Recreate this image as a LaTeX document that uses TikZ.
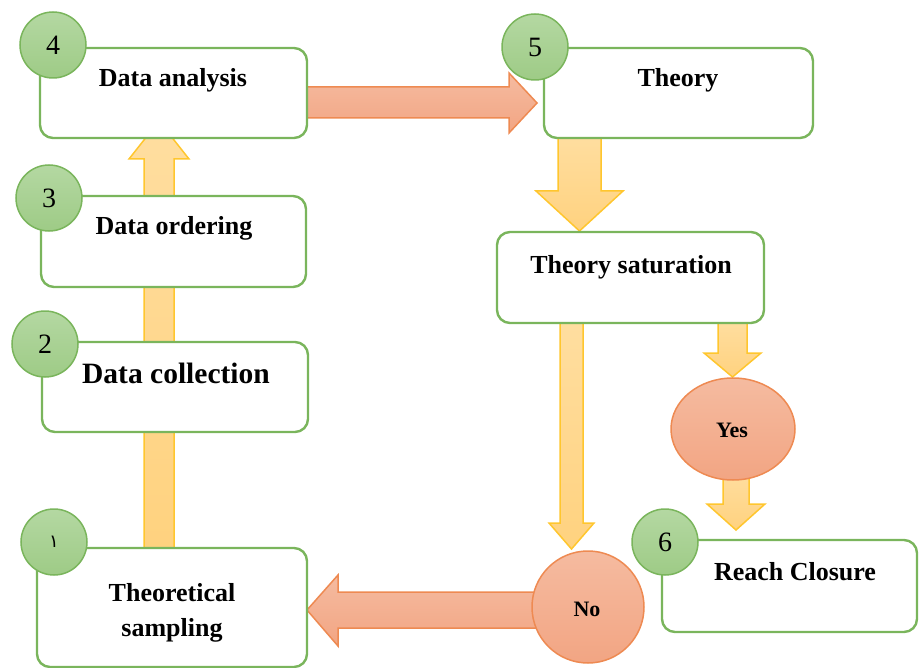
\documentclass[tikz,border=0pt]{standalone}
\usepackage{fontspec}
\setmainfont{Liberation Serif}
\newfontfamily\arabicfont[Script=Arabic]{DejaVu Sans}
\TeXXeTstate=1
\usetikzlibrary{shapes.geometric}
\definecolor{gline}{HTML}{7AB55C}
\definecolor{gtop}{HTML}{B4D8A2}
\definecolor{gbot}{HTML}{9ECB86}
\definecolor{oline}{HTML}{EE8A52}
\definecolor{otop}{HTML}{F5BBA0}
\definecolor{obot}{HTML}{F2A583}
\definecolor{yline}{HTML}{FFC62E}
\definecolor{ytop}{HTML}{FFDEA0}
\definecolor{ybot}{HTML}{FFD27F}
\tikzset{
  box/.style={draw=gline, line width=2.4pt, fill=white, rounded corners=13pt, inner sep=0pt},
  numc/.style={circle, draw=gline, line width=1.5pt, top color=gtop, bottom color=gbot,
    minimum size=66pt, inner sep=0pt, font=\fontsize{28}{30}\selectfont},
  lbl/.style={font=\fontsize{26}{30}\selectfont\bfseries, anchor=base, inner sep=0pt},
  yarr/.style={draw=yline, line width=1.5pt, top color=ytop, bottom color=ybot, line join=miter},
  oarr/.style={draw=oline, line width=1.5pt, top color=otop, bottom color=obot, line join=miter},
  dec/.style={draw=oline, line width=1.5pt, top color=otop, bottom color=obot, inner sep=0pt,
    font=\fontsize{22}{24}\selectfont\bfseries},
}
\begin{document}
\begin{tikzpicture}[x=1pt, y=-1pt]
\useasboundingbox (0,0) rectangle (920,668);
% block arrows
\path[yarr] (144,548) -- (144,159) -- (129,159) -- (159,121) -- (189,159) -- (174,159) -- (174,548) -- cycle;
\path[oarr] (300,87) -- (509,87) -- (509,73) -- (537,103) -- (509,133) -- (509,118) -- (300,118) -- cycle;
\path[yarr] (558,135) -- (558,191) -- (536,191) -- (579.5,231) -- (623,191) -- (601,191) -- (601,135) -- cycle;
\path[yarr] (560,320) -- (560,523) -- (549,523) -- (571.5,549) -- (594,523) -- (583,523) -- (583,320) -- cycle;
\path[yarr] (718,320) -- (718,353) -- (704,353) -- (732.5,377) -- (761,353) -- (747,353) -- (747,320) -- cycle;
\path[yarr] (723,470) -- (723,504) -- (707,504) -- (736,530) -- (765,504) -- (749,504) -- (749,470) -- cycle;
\path[oarr] (565,592) -- (338,592) -- (338,575) -- (307,610) -- (338,646) -- (338,628) -- (565,628) -- cycle;
% boxes
\node[box, minimum width=267pt, minimum height=90pt] (da) at (173.5,93) {};
\node[box, minimum width=265pt, minimum height=91pt] (do) at (173.5,241.5) {};
\node[box, minimum width=266pt, minimum height=90pt] (dc) at (175,387) {};
\node[box, minimum width=270pt, minimum height=119pt] (ts) at (172,607.5) {};
\node[box, minimum width=269pt, minimum height=90pt] (th) at (678.5,93) {};
\node[box, minimum width=267pt, minimum height=91pt] (sat) at (630.5,277.5) {};
\node[box, minimum width=255pt, minimum height=92pt] (rc) at (789.5,586) {};
% labels
\node[lbl] (tda) at (173,87) {Data analysis};
\node[lbl] (tdo) at (174,235) {Data ordering};
\node[lbl, font=\fontsize{29.5}{32}\selectfont\bfseries] (tdc) at (176,383) {Data collection};
\node[lbl] (tts1) at (172,601) {Theoretical};
\node[lbl] (tts2) at (172,636) {sampling};
\node[lbl] (tth) at (678,87) {Theory};
\node[lbl] (tsat) at (631,273) {Theory saturation};
\node[lbl] (trc) at (795,580) {Reach Closure};
% decisions
\node[dec, ellipse, minimum width=124pt, minimum height=102pt] (yes) at (733,429) {};
\node[anchor=base, inner sep=0pt, font=\fontsize{22}{24}\selectfont\bfseries] (tyes) at (732,437) {Yes};
\node[dec, circle, minimum size=112pt] (no) at (588,607) {};
\node[anchor=base, inner sep=0pt, font=\fontsize{22}{24}\selectfont\bfseries] (tno) at (587,616) {No};
% number circles
\node[numc] (n4) at (53,45) {4};
\node[numc] (n3) at (49,198) {3};
\node[numc] (n2) at (45,344) {2};
\node[numc, font=\fontsize{18}{20}\arabicfont] (n1) at (54,542) {\beginR ١\endR};
\node[numc] (n5) at (535,47) {5};
\node[numc] (n6) at (665,542) {6};
\end{tikzpicture}
\end{document}
